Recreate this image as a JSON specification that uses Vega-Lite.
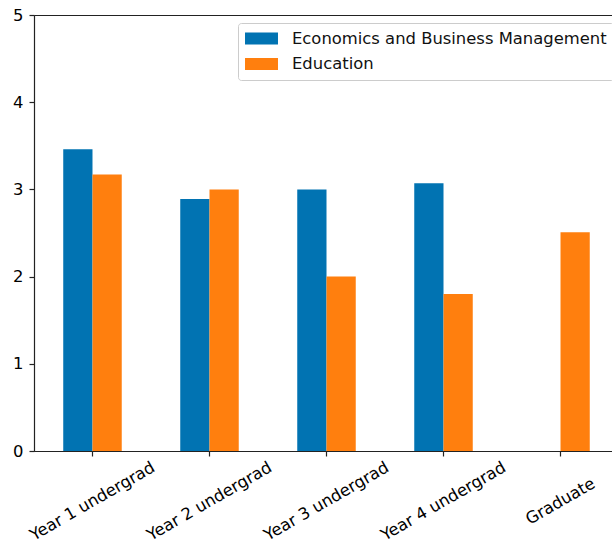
{
  "$schema": "https://vega.github.io/schema/vega-lite/v6.json",
  "width": 578,
  "height": 436,
  "autosize": {"type": "none"},
  "padding": {"left": 34, "top": 15, "right": 0, "bottom": 93},
  "background": "white",
  "data": {"values": [
    {"level": "Year 1 undergrad", "faculty": "Economics and Business Management", "value": 3.46},
    {"level": "Year 1 undergrad", "faculty": "Education", "value": 3.17},
    {"level": "Year 2 undergrad", "faculty": "Economics and Business Management", "value": 2.89},
    {"level": "Year 2 undergrad", "faculty": "Education", "value": 3.0},
    {"level": "Year 3 undergrad", "faculty": "Economics and Business Management", "value": 3.0},
    {"level": "Year 3 undergrad", "faculty": "Education", "value": 2.0},
    {"level": "Year 4 undergrad", "faculty": "Economics and Business Management", "value": 3.07},
    {"level": "Year 4 undergrad", "faculty": "Education", "value": 1.8},
    {"level": "Graduate", "faculty": "Education", "value": 2.51}
  ]},
  "mark": {"type": "bar", "stroke": null},
  "encoding": {
    "x": {
      "field": "level", "type": "nominal",
      "sort": ["Year 1 undergrad", "Year 2 undergrad", "Year 3 undergrad", "Year 4 undergrad", "Graduate"],
      "scale": {"paddingInner": 0.5, "paddingOuter": 0.22, "align": 0.568},
      "axis": {
        "title": null, "labelAngle": -30, "labelAlign": "center", "labelBaseline": "middle",
        "labelFont": "DejaVu Sans", "labelFontSize": 16.4, "labelColor": "#000",
        "tickSize": 5, "tickColor": "#222", "domainColor": "#222", "labelPadding": 45
      }
    },
    "xOffset": {"field": "faculty", "type": "nominal", "sort": ["Economics and Business Management", "Education"], "scale": {"domain": ["Economics and Business Management", "Education"], "paddingInner": 0, "paddingOuter": 0}},
    "y": {
      "field": "value", "type": "quantitative",
      "scale": {"domain": [0, 5], "nice": false},
      "axis": {
        "title": null, "values": [0, 1, 2, 3, 4, 5], "grid": false,
        "labelFont": "DejaVu Sans", "labelFontSize": 16.4, "labelColor": "#000",
        "tickSize": 5, "tickColor": "#222", "domainColor": "#222", "labelPadding": 6
      }
    },
    "color": {
      "field": "faculty", "type": "nominal",
      "scale": {"domain": ["Economics and Business Management", "Education"], "range": ["#0173b2", "#ff7f0e"]},
      "legend": {
        "title": null, "orient": "none", "legendX": 204, "legendY": 8,
        "symbolType": "M-2,-0.72H2V0.72H-2Z", "symbolSize": 272, "symbolStrokeWidth": 0,
        "symbolOffset": 8,
        "labelFont": "DejaVu Sans", "labelFontSize": 16.4, "labelColor": "#111", "labelOffset": 22,
        "strokeColor": "#ccc", "fillColor": "white", "cornerRadius": 3, "padding": 7, "rowPadding": 8.5,
        "labelLimit": 400
      }
    }
  },
  "config": {
    "view": {"stroke": "#222", "strokeWidth": 1},
    "axis": {"domainWidth": 1.2, "tickWidth": 1.2}
  }
}
